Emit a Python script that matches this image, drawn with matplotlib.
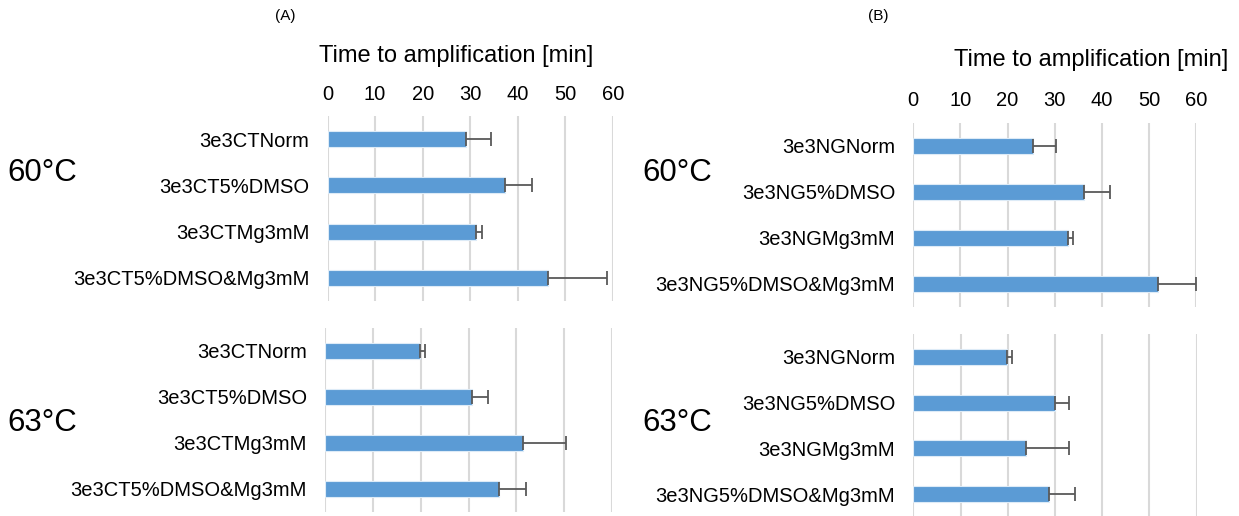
import matplotlib
matplotlib.use("Agg")
import matplotlib.pyplot as plt

plt.rcParams['font.family'] = ['Liberation Sans', 'DejaVu Sans']

# Data
cats_ct = ["3e3CTNorm", "3e3CT5%DMSO", "3e3CTMg3mM", "3e3CT5%DMSO&Mg3mM"]
cats_ng = ["3e3NGNorm", "3e3NG5%DMSO", "3e3NGMg3mM", "3e3NG5%DMSO&Mg3mM"]

a60_mean = [29.2, 37.4, 31.3, 46.3]
a60_err = [5.1, 5.5, 1.1, 12.4]
a63_mean = [19.9, 30.8, 41.3, 36.4]
a63_err = [1.0, 3.2, 9.0, 5.6]
b60_mean = [25.5, 36.2, 32.9, 52.0]
b60_err = [4.7, 5.5, 1.1, 7.9]
b63_mean = [19.9, 30.0, 23.9, 28.8]
b63_err = [1.0, 3.0, 9.1, 5.5]

xticks = [0, 10, 20, 30, 40, 50, 60]
xlabel = "Time to amplification [min]"

W, H = 1239, 516
fig = plt.figure(figsize=(W / 100, H / 100), dpi=100)

BAR = "#5B9BD5"
ERR = "#595959"
GRID = "#D9D9D9"


def px_axes(x0, x1, ytop, ybot):
    return fig.add_axes([x0 / W, 1 - ybot / H, (x1 - x0) / W, (ybot - ytop) / H])


def panel(ax, cats, means, errs, top):
    y = list(range(len(cats)))
    ax.barh(y, means, height=0.35, color=BAR, edgecolor="#DDEBF7", linewidth=0.8, zorder=3)
    ax.errorbar(means, y, xerr=[[0] * len(errs), errs], fmt="none", ecolor=ERR,
                elinewidth=1.3, capsize=5, capthick=1.3, zorder=4)
    ax.set_xlim(0, 60)
    ax.set_ylim(3.5, -0.5)
    ax.set_yticks(y)
    ax.set_yticklabels(cats, fontsize=14.5)
    ax.set_xticks(xticks)
    ax.grid(axis="x", color=GRID, linewidth=1.5, zorder=0)
    for s in ax.spines.values():
        s.set_visible(False)
    ax.tick_params(axis="y", length=0, pad=13)
    ax.tick_params(axis="x", length=0)
    if top:
        ax.xaxis.tick_top()
        ax.tick_params(axis="x", labelsize=14.5, pad=9)
    else:
        ax.set_xticklabels([])


axA1 = px_axes(327.5, 613, 116, 301)
panel(axA1, cats_ct, a60_mean, a60_err, True)
axA2 = px_axes(325, 612, 328, 512)
panel(axA2, cats_ct, a63_mean, a63_err, False)
axB1 = px_axes(913.3, 1196, 122.7, 306.7)
panel(axB1, cats_ng, b60_mean, b60_err, True)
axB2 = px_axes(913.3, 1196.7, 333.7, 517.3)
panel(axB2, cats_ng, b63_mean, b63_err, False)

fig.text(456.5 / W, 1 - 56 / H, xlabel, fontsize=17, ha="center", va="center")
fig.text(1091 / W, 1 - 60 / H, xlabel, fontsize=17, ha="center", va="center")

fig.text(7 / W, 1 - 173 / H, "60°C", fontsize=22.5, ha="left", va="center")
fig.text(7 / W, 1 - 423 / H, "63°C", fontsize=22.5, ha="left", va="center")
fig.text(642 / W, 1 - 173 / H, "60°C", fontsize=22.5, ha="left", va="center")
fig.text(642 / W, 1 - 423 / H, "63°C", fontsize=22.5, ha="left", va="center")
fig.text(285 / W, 1 - 16 / H, "(A)", fontsize=11, ha="center", va="center")
fig.text(878 / W, 1 - 16 / H, "(B)", fontsize=11, ha="center", va="center")

fig.savefig("out.png", dpi=100)
